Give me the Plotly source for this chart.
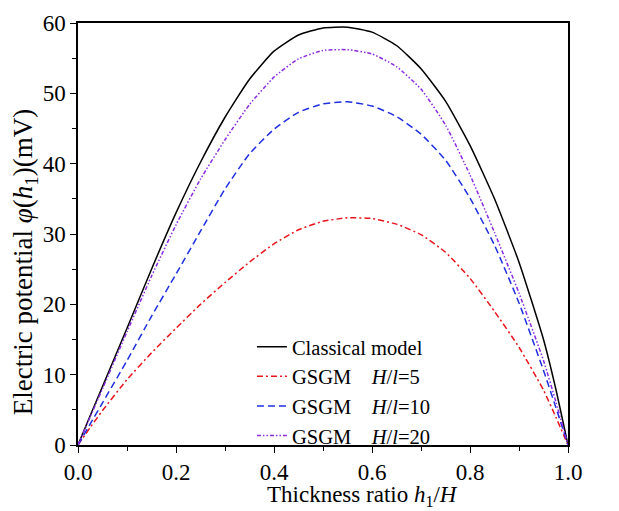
import plotly.graph_objects as go

ratio = [0, 0.025, 0.05, 0.1, 0.15, 0.2, 0.25, 0.3, 0.35, 0.4, 0.45, 0.5,
         0.55, 0.6, 0.65, 0.7, 0.75, 0.8, 0.85, 0.9, 0.95, 0.975, 1.0]
classical = [0, 4.2, 8.3, 16.6, 25.0, 33.0, 40.2, 46.6, 52.0, 56.0, 58.3, 59.3,
             59.4, 58.7, 56.8, 53.5, 48.9, 42.6, 35.0, 26.0, 15.0, 8.0, 0]
gsgm5 = [0, 2.5, 4.9, 9.3, 13.1, 16.6, 20.0, 23.1, 26.0, 28.6, 30.6, 31.8,
         32.3, 32.2, 31.4, 29.9, 27.4, 23.7, 19.0, 13.9, 7.8, 4.0, 0]
gsgm10 = [0, 3.0, 6.0, 12.0, 18.3, 24.3, 30.4, 36.4, 41.4, 44.9, 47.3, 48.5,
          48.8, 48.2, 46.7, 44.2, 40.5, 35.1, 28.4, 20.2, 10.6, 5.4, 0]
gsgm20 = [0, 4.0, 8.0, 16.1, 24.0, 31.3, 37.8, 43.4, 48.4, 52.3, 54.9, 56.1,
          56.2, 55.6, 53.8, 50.6, 45.5, 38.4, 30.2, 21.6, 12.0, 6.2, 0]

FONT = "Liberation Serif"
sp = "&nbsp;" * 4

series = [
    ("Classical model", classical, "black", "solid"),
    ("GSGM" + sp + "<i>H</i>/<i>l</i>=5", gsgm5, "#e8141b", "6px,3px,2px,3px"),
    ("GSGM" + sp + "<i>H</i>/<i>l</i>=10", gsgm10, "#1f2fe0", "7px,4px"),
    ("GSGM" + sp + "<i>H</i>/<i>l</i>=20", gsgm20, "#8a2be2", "4px,2px,1.5px,2px,1.5px,2px"),
]

fig = go.Figure()
for name, ys, col, dash in series:
    fig.add_trace(go.Scatter(x=ratio, y=ys, mode="lines", name=name,
                             line=dict(color=col, width=1.5, dash=dash, shape="spline", smoothing=0.5)))

axis_common = dict(showline=True, linecolor="black", linewidth=1.5, mirror=True,
                   ticks="outside", tickcolor="black", tickwidth=1.3, ticklen=6,
                   showgrid=False, zeroline=False, automargin=False,
                   tickfont=dict(family=FONT, size=23, color="black"))

fig.update_xaxes(range=[0, 1], tickvals=[0, 0.2, 0.4, 0.6, 0.8, 1.0],
                 ticktext=["0.0", "0.2", "0.4", "0.6", "0.8", "1.0"],
                 minor=dict(dtick=0.1, ticks="outside", ticklen=4, tickcolor="black", tickwidth=1.2),
                 **axis_common)
fig.update_yaxes(range=[0, 60], tickvals=[0, 10, 20, 30, 40, 50, 60],
                 minor=dict(dtick=5, ticks="outside", ticklen=4, tickcolor="black", tickwidth=1.2),
                 **axis_common)

fig.add_annotation(text="Thickness ratio <i>h</i><sub>1</sub>/<i>H</i>", xref="x", x=0.58,
                   yref="paper", y=0, yshift=-51, showarrow=False, xanchor="center", yanchor="middle",
                   font=dict(family=FONT, size=23, color="black"))
fig.add_annotation(text="Electric potential <i>φ</i>(<i>h</i><sub>1</sub>)(mV)", xref="paper", x=0,
                   xshift=-53, yref="y", y=26, textangle=-90, showarrow=False,
                   xanchor="center", yanchor="middle",
                   font=dict(family=FONT, size=27, color="black"))

fig.update_layout(
    width=619, height=511,
    margin=dict(l=70, r=59, t=15, b=74),
    paper_bgcolor="white", plot_bgcolor="white",
    font=dict(family=FONT, size=23, color="black"),
    legend=dict(x=0.355, y=0.28, xanchor="left", yanchor="top", bgcolor="rgba(0,0,0,0)",
                font=dict(family=FONT, size=20.5, color="black"), tracegroupgap=0,
                itemwidth=30),
    showlegend=True,
)

fig.write_html("out.html")
